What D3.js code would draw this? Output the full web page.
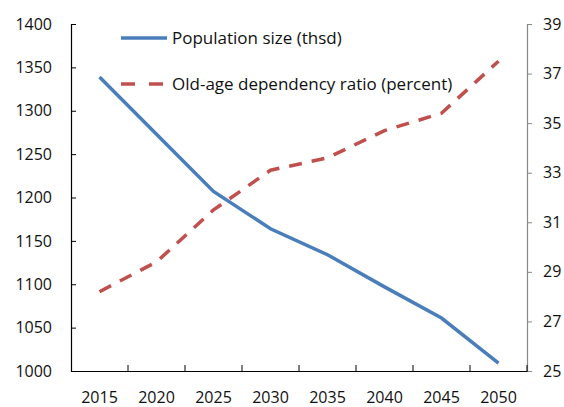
<!DOCTYPE html>
<html lang="en">
<head>
<meta charset="utf-8">
<script src="https://d3js.org/d3.v7.min.js"></script>
<style>
  body { margin: 0; background: #fff; }
  text { font-family: "Open Sans", sans-serif; fill: #111; }
</style>
</head>
<body>
<div class="main"></div>
<script>
// data
var years = ["2015", "2020", "2025", "2030", "2035", "2040", "2045", "2050"]
var population = [1339, 1273, 1207, 1164, 1134, 1097, 1061, 1009]
var dependency = [28.2, 29.4, 31.5, 33.1, 33.6, 34.7, 35.4, 37.5]
var leftTicks = [1000, 1050, 1100, 1150, 1200, 1250, 1300, 1350, 1400]
var rightTicks = [25, 27, 29, 31, 33, 35, 37, 39]

var width = 564
var height = 407
var plotLeft = 71, plotRight = 527, plotTop = 24, plotBottom = 371
var fontSize = "16px"

var svg = d3.select(".main").append("svg")
  .attr("width", width)
  .attr("height", height)

var x = d3.scaleBand().domain(years).range([plotLeft, plotRight])
var yL = d3.scaleLinear().domain([1000, 1400]).range([plotBottom, plotTop])
var yR = d3.scaleLinear().domain([25, 39]).range([plotBottom, plotTop])

// left axis, ticks pointing inward
var gL = svg.append("g").attr("transform", "translate(" + plotLeft + ",0)")
  .call(d3.axisLeft(yL).tickValues(leftTicks).tickFormat(d3.format("d")).tickSize(-5).tickPadding(19))
gL.select(".domain").attr("stroke", "#000").attr("stroke-width", 1.2)
gL.selectAll(".tick line").attr("stroke", "#000")
gL.selectAll("text").style("font-size", fontSize).attr("fill", "#111")

// right axis, grey
var gR = svg.append("g").attr("transform", "translate(" + plotRight + ",0)")
  .call(d3.axisRight(yR).tickValues(rightTicks).tickFormat(d3.format("d")).tickSize(5).tickPadding(11))
gR.select(".domain").attr("stroke", "#888").attr("stroke-width", 1.2)
gR.selectAll(".tick line").attr("stroke", "#888")
gR.selectAll("text").style("font-size", fontSize).attr("fill", "#111")

// bottom axis, labels centred in bands, ticks on band edges
var gB = svg.append("g").attr("transform", "translate(0," + plotBottom + ")")
  .call(d3.axisBottom(x).tickSize(0).tickPadding(21))
gB.select(".domain").attr("stroke", "#000").attr("stroke-width", 1.2)
gB.selectAll("text").style("font-size", fontSize).attr("fill", "#111")
gB.selectAll(".edge")
  .data(years.slice(1).concat(["end"]))
  .enter().append("line")
  .attr("x1", function(d){ return d == "end" ? plotRight : x(d) })
  .attr("x2", function(d){ return d == "end" ? plotRight : x(d) })
  .attr("y1", 0).attr("y2", -6)
  .attr("stroke", "#000")

var cx = function(d, i){ return x(years[i]) + x.bandwidth() / 2 }

svg.append("path")
  .datum(population)
  .attr("fill", "none")
  .attr("stroke", "#4a7ebb")
  .attr("stroke-width", 3.5)
  .attr("d", d3.line().x(cx).y(function(d){ return yL(d) }))

svg.append("path")
  .datum(dependency)
  .attr("fill", "none")
  .attr("stroke", "#c0504d")
  .attr("stroke-width", 3.5)
  .attr("stroke-dasharray", "13,10")
  .attr("d", d3.line().x(cx).y(function(d){ return yR(d) }))

// legend
var legend = [
  {label: "Population size (thsd)", color: "#4a7ebb", dash: null, y: 38},
  {label: "Old-age dependency ratio (percent)", color: "#c0504d", dash: "14,14", y: 84}
]
var lg = svg.selectAll(".legend").data(legend).enter().append("g")
lg.append("line")
  .attr("x1", 121).attr("x2", 167)
  .attr("y1", function(d){ return d.y }).attr("y2", function(d){ return d.y })
  .attr("stroke", function(d){ return d.color })
  .attr("stroke-width", 3.5)
  .attr("stroke-dasharray", function(d){ return d.dash })
lg.append("text")
  .attr("x", 172)
  .attr("y", function(d){ return d.y })
  .attr("dy", "0.35em")
  .style("font-size", "17px")
  .text(function(d){ return d.label })
</script>
</body>
</html>
